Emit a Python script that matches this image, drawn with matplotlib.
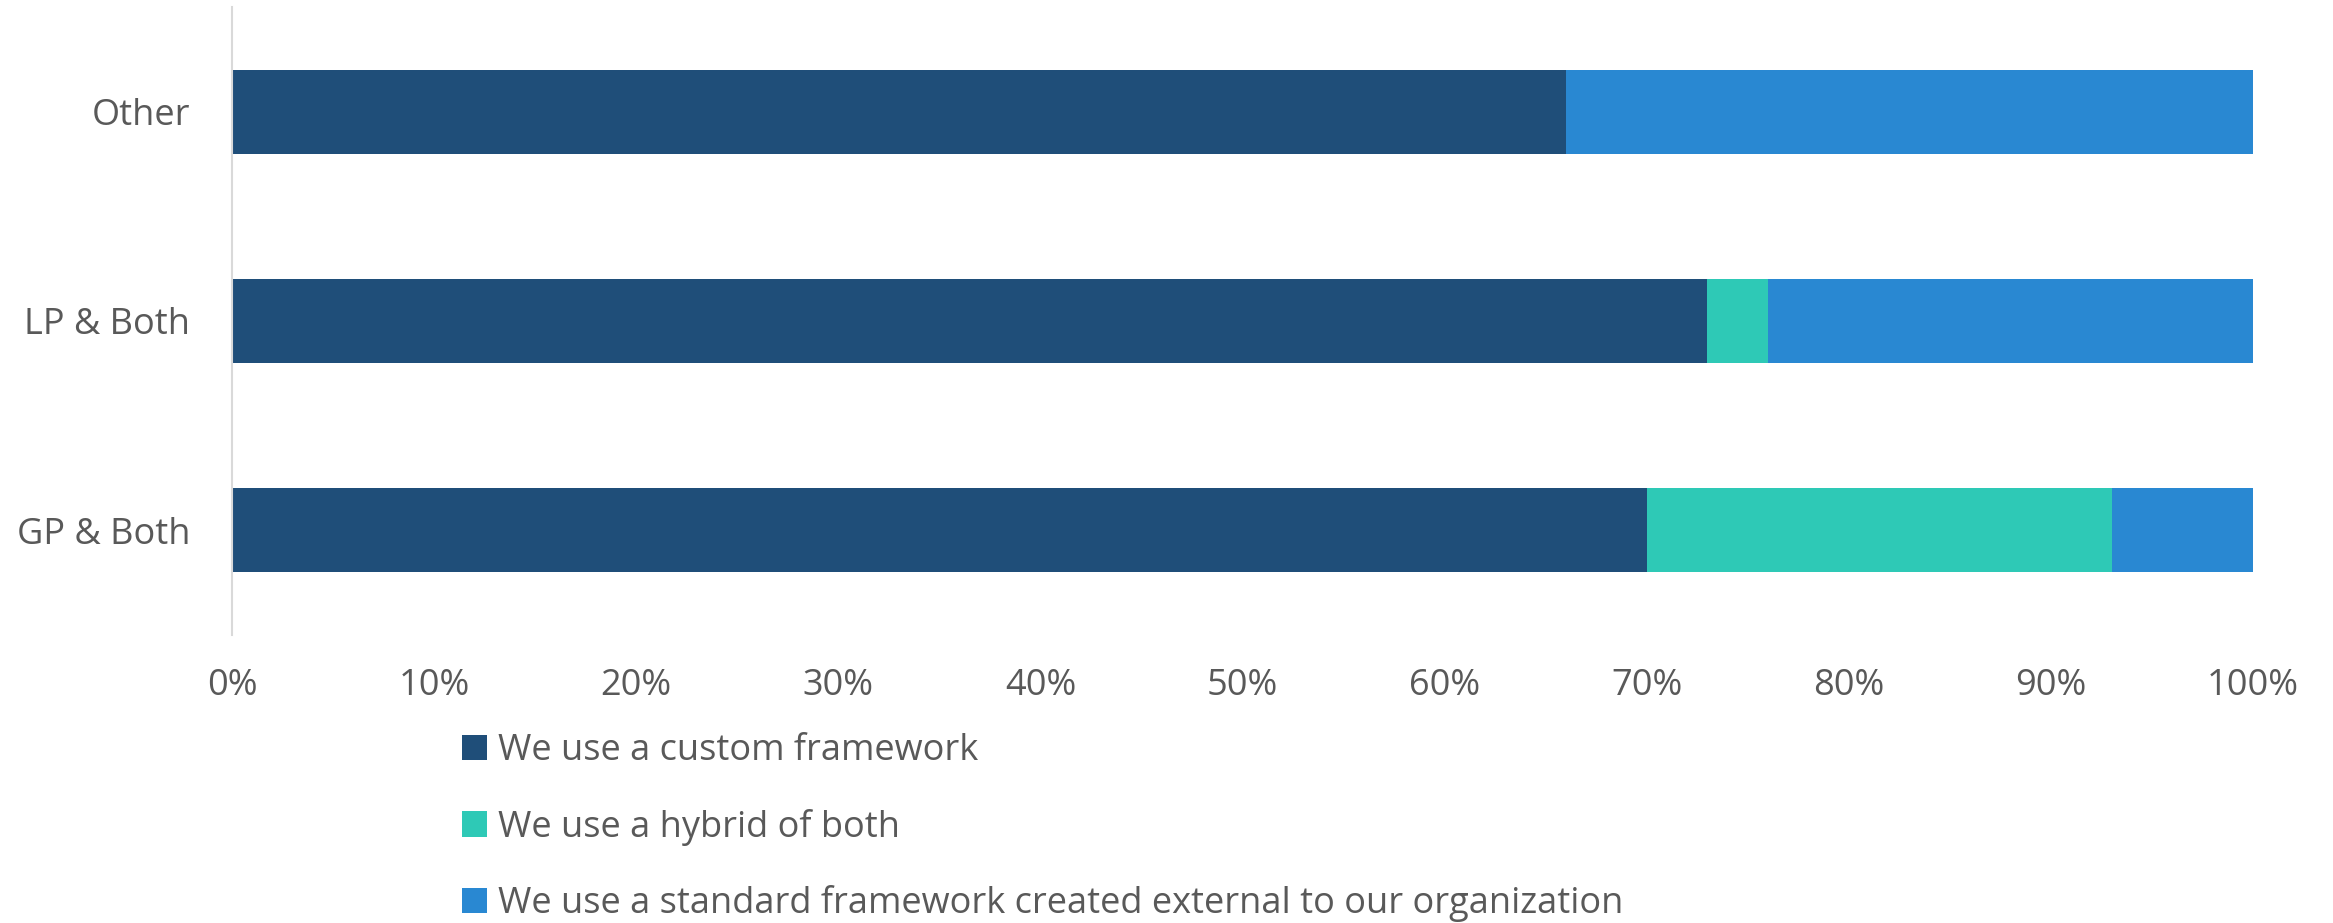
import matplotlib.pyplot as plt
from matplotlib.ticker import PercentFormatter

plt.rcParams['font.family'] = ['Open Sans', 'DejaVu Sans']

categories = ['GP & Both', 'LP & Both', 'Other']
custom = [70, 73, 66]
hybrid = [23, 3, 0]
standard = [7, 24, 34]

series_labels = ['We use a custom framework',
                 'We use a hybrid of both',
                 'We use a standard framework created external to our organization']
colors = ['#1F4E79', '#2EC9B6', '#2988D2']
text_col = '#595959'

W, H = 2333, 923
fig = plt.figure(figsize=(W / 100, H / 100), dpi=100)
ax = fig.add_axes([232 / W, 1 - 635 / H, (2253 - 232) / W, (635 - 7) / H])

left = [0] * len(categories)
bars = []
for vals, col, lab in zip([custom, hybrid, standard], colors, series_labels):
    b = ax.barh(categories, vals, left=left, height=0.4, color=col, label=lab)
    bars.append(b)
    left = [l + v for l, v in zip(left, vals)]

ax.set_xlim(0, 100)
ax.set_ylim(-0.5, 2.5)
ax.xaxis.set_major_formatter(PercentFormatter(decimals=0))
ax.set_xticks(range(0, 101, 10))

for s in ['top', 'right', 'bottom']:
    ax.spines[s].set_visible(False)
ax.spines['left'].set_color('#D9D9D9')
ax.spines['left'].set_linewidth(1.5)
ax.tick_params(axis='both', length=0, labelsize=26, labelcolor=text_col)
ax.tick_params(axis='x', pad=24)
ax.tick_params(axis='y', pad=30)

leg = fig.legend(handles=bars, loc='upper left', bbox_to_anchor=(462 / W, 1 - 733 / H),
                 frameon=False, fontsize=26, handlelength=0.7, handleheight=0.7,
                 handletextpad=0.3, labelspacing=1.1, borderpad=0, borderaxespad=0)
for t in leg.get_texts():
    t.set_color(text_col)

fig.savefig('out.png', dpi=100)
